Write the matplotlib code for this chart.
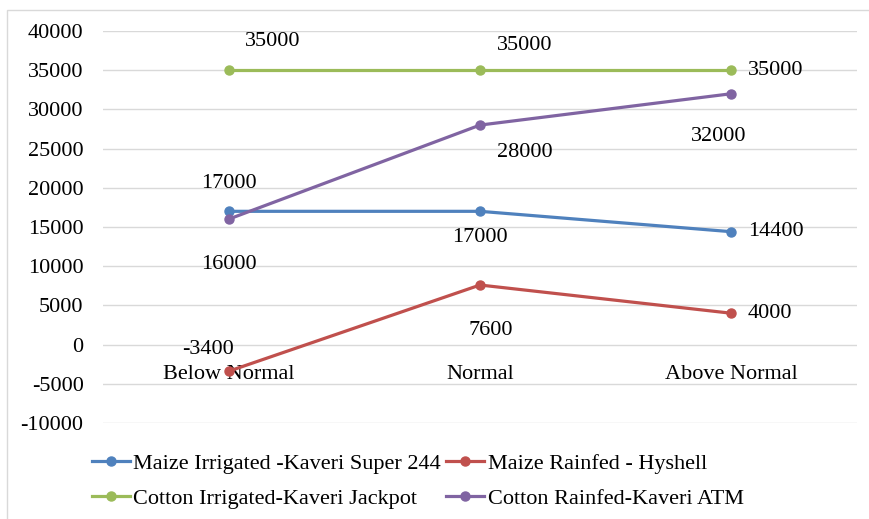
import matplotlib.pyplot as plt
from matplotlib.patches import Rectangle

plt.rcParams['font.family'] = ['Liberation Serif', 'DejaVu Serif']
plt.rcParams['axes.unicode_minus'] = False

categories = ['Below Normal', 'Normal', 'Above Normal']
maize_irrigated = [17000, 17000, 14400]
maize_rainfed = [-3400, 7600, 4000]
cotton_irrigated = [35000, 35000, 35000]
cotton_rainfed = [16000, 28000, 32000]

series = [
    ('Maize Irrigated -Kaveri Super 244', maize_irrigated, '#4F81BD'),
    ('Maize Rainfed - Hyshell', maize_rainfed, '#C0504D'),
    ('Cotton Irrigated-Kaveri Jackpot', cotton_irrigated, '#9BBB59'),
    ('Cotton Rainfed-Kaveri ATM', cotton_rainfed, '#8064A2'),
]

# label offsets in points (dx, dy) per series / point
offsets = [
    [(0, 20), (0, -19), (32, 0)],
    [(-15, 16), (8, -33), (28, 0)],
    [(32, 21), (32, 18), (32, 0)],
    [(0, -33), (32, -20), (-9, -31)],
]

fig = plt.figure(figsize=(8.69, 5.19), dpi=100)
ax = fig.add_axes([103/869, 1 - 423/519, 754/869, 392/519])

x = list(range(len(categories)))
lines = []
for (name, vals, col), offs in zip(series, offsets):
    ln, = ax.plot(x, vals, color=col, lw=2.3, marker='o', ms=6.5, label=name)
    lines.append(ln)
    for xi, v, (dx, dy) in zip(x, vals, offs):
        ax.annotate(str(v), (xi, v), xytext=(dx, dy), textcoords='offset points',
                    ha='center', va='center', fontsize=16)

ax.set_xlim(-0.5, 2.5)
ax.set_ylim(-10000, 40000)
ax.set_yticks(range(-10000, 40001, 5000))
ax.set_xticks(x)
ax.set_xticklabels(categories)
ax.tick_params(axis='y', length=0, labelsize=16, pad=14)
ax.tick_params(axis='x', length=0, labelsize=16, pad=14.5)
ax.grid(axis='y', color='#D9D9D9', lw=1)
ax.set_axisbelow(True)
for s in ['top', 'right', 'left']:
    ax.spines[s].set_visible(False)
ax.spines['bottom'].set_position(('data', 0))
ax.spines['bottom'].set_color('none')

# legend fills row by row like the original
order = [0, 2, 1, 3]
fig.legend([lines[i] for i in order], [series[i][0] for i in order],
           loc='lower left', bbox_to_anchor=(72/869, -10/519), ncol=2, frameon=False,
           fontsize=16, handlelength=1.7, handletextpad=0.15, columnspacing=0.25,
           labelspacing=0.66)

fig.patches.append(Rectangle((7/869, -0.1), 1.2, 1.1 - 10/519, transform=fig.transFigure,
                             fill=False, edgecolor='#D9D9D9', lw=1))

fig.savefig('out.png', dpi=100)
